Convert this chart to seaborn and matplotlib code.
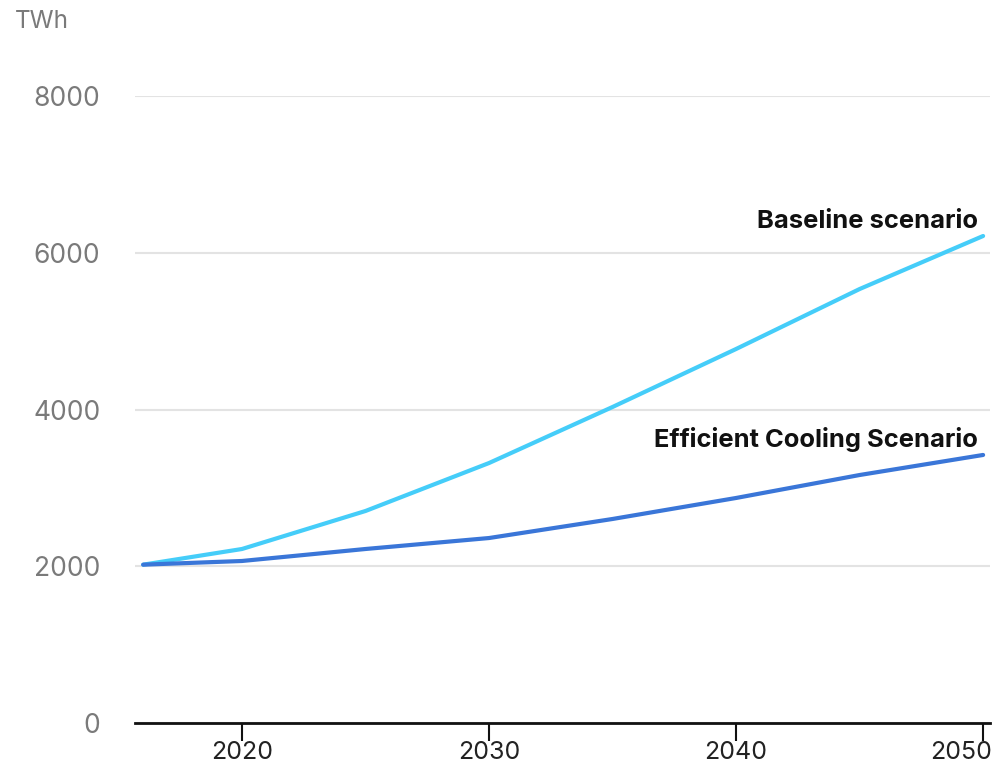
import matplotlib
matplotlib.use("Agg")
import matplotlib.pyplot as plt
import matplotlib.transforms as mtransforms
import seaborn as sns
import pandas as pd

years = [2016, 2020, 2025, 2030, 2035, 2040, 2045, 2050]
baseline = [2020, 2220, 2705, 3317, 4032, 4772, 5537, 6214]
efficient = [2020, 2067, 2220, 2360, 2603, 2871, 3164, 3420]
series_names = ["Baseline scenario", "Efficient Cooling Scenario"]
series_colors = ["#45cdf9", "#3a76d8"]
y_ticks = [0, 2000, 4000, 6000, 8000]
x_ticks = [2020, 2030, 2040, 2050]

df = pd.DataFrame({
    "year": years * 2,
    "twh": baseline + efficient,
    "scenario": [series_names[0]] * len(years) + [series_names[1]] * len(years),
})

sns.set_theme(style="white")
plt.rcParams["font.family"] = ["Inter", "DejaVu Sans"]

fig = plt.figure(figsize=(9.95, 7.67), dpi=100)
ax = fig.add_axes([0.1357, 0.0574, 0.8593, 0.8174])

sns.lineplot(data=df, x="year", y="twh", hue="scenario", palette=series_colors,
             hue_order=series_names, linewidth=3, ax=ax, legend=False, zorder=3)

ax.set_xlim(2015.67, 2050.28)
ax.set_ylim(0, 8000)
ax.set_xticks(x_ticks)
ax.set_yticks(y_ticks)
ax.set_xticklabels([str(t) for t in x_ticks], fontsize=18, color="#222222")
ax.set_yticklabels([str(t) for t in y_ticks], fontsize=19, color="#7a7a7a")
ax.grid(axis="y", color="#e3e3e3", linewidth=1.5, zorder=0)
ax.set_xlabel("")
ax.set_ylabel("")

for side in ["top", "right", "left"]:
    ax.spines[side].set_visible(False)
ax.spines["bottom"].set_color("#111111")
ax.spines["bottom"].set_linewidth(2)
ax.spines["bottom"].set_zorder(4)
ax.tick_params(axis="x", length=13, width=1.5, color="#111111", pad=0, direction="out", bottom=True)
ax.tick_params(axis="y", length=0, pad=25)

fig.text(0.015, 0.972, "TWh", fontsize=17.5, color="#7a7a7a", ha="left", va="center")

ax.text(2049.8, 6400, series_names[0], fontsize=18.4, fontweight="bold", color="#111111",
        ha="right", va="center")
ax.text(2049.8, 3615, series_names[1], fontsize=18.4, fontweight="bold", color="#111111",
        ha="right", va="center")

# keep the last year label inside the figure edge
fig.canvas.draw()
last = ax.xaxis.get_major_ticks()[-1].label1
last.set_transform(last.get_transform() + mtransforms.ScaledTranslation(-0.22, 0, fig.dpi_scale_trans))

fig.savefig("out.png", dpi=100, facecolor="white")
